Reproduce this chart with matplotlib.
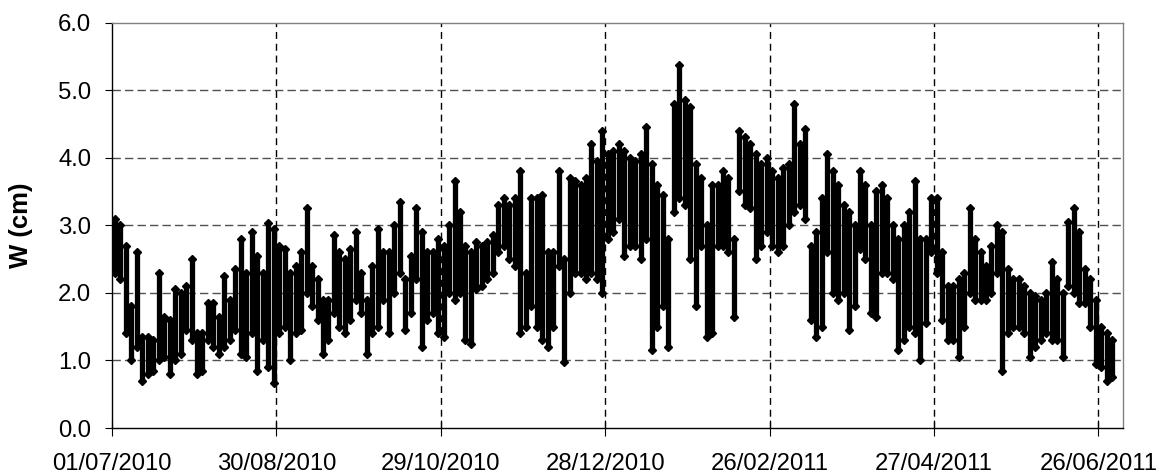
import numpy as np
import pandas as pd
import matplotlib
matplotlib.use('Agg')
import matplotlib.pyplot as plt
import matplotlib.dates as mdates

plt.rcParams['font.family'] = ['Liberation Sans', 'DejaVu Sans']
plt.rcParams['lines.scale_dashes'] = False

# two-day blocks starting 01/07/2010: lowest and highest W (cm)
start = '2010-07-01'
w_low = [2.3, 2.2, 1.4, 1.0, 1.2, 0.7, 0.8, 0.85, 1.0, 1.05,
         0.8, 1.0, 1.1, 1.45, 1.3, 0.8, 0.85, 1.3, 1.2, 1.1,
         1.2, 1.3, 1.45, 1.1, 1.05, 1.4, 0.85, 1.3, 0.9, 0.66,
         1.4, 1.5, 1.0, 1.4, 1.45, 2.0, 1.8, 1.6, 1.1, 1.3,
         1.7, 1.5, 1.4, 1.6, 1.9, 1.7, 1.1, 1.4, 1.5, 1.9,
         1.4, 2.0, 2.3, 1.45, 1.7, 2.2, 1.2, 1.6, 1.7, 1.4,
         1.35, 2.0, 1.9, 2.0, 1.3, 1.25, 2.05, 2.1, 2.2, 2.3,
         2.6, 2.7, 2.5, 2.4, 1.4, 1.5, 1.8, 1.5, 1.3, 1.2,
         1.5, 2.4, 0.98, 2.0, 2.3, 2.3, 2.2, 2.3, 2.2, 2.0,
         2.8, 2.9, 3.1, 2.55, 2.7, 2.7, 2.5, 2.8, 1.15, 1.5,
         1.8, 1.2, 3.2, 3.4, 3.3, 2.5, 1.8, 2.7, 1.35, 1.4,
         2.7, 2.7, 2.6, 1.65, 3.5, 3.3, 3.25, 2.5, 2.7, 2.9,
         2.7, 2.6, 2.7, 3.0, 3.2, 3.3, 3.1, 1.6, 1.35, 1.5,
         2.6, 2.0, 1.9, 2.0, 1.45, 1.8, 2.65, 2.5, 1.7, 1.65,
         2.3, 2.3, 2.2, 1.15, 1.3, 1.5, 1.4, 1.0, 1.55, 2.6,
         2.3, 1.6, 1.3, 1.3, 1.05, 1.5, 2.0, 1.9, 1.9, 1.9,
         2.0, 2.3, 0.85, 1.4, 1.5, 1.5, 1.4, 1.05, 1.2, 1.3,
         1.4, 1.3, 1.3, 1.05, 2.1, 2.0, 1.85, 1.85, 1.5, 0.95,
         0.9, 0.7, 0.75]
w_high = [3.1, 3.0, 2.7, 1.8, 2.6, 1.35, 1.35, 1.3, 2.3, 1.65,
          1.6, 2.05, 2.0, 2.1, 2.5, 1.4, 1.4, 1.85, 1.85, 1.65,
          2.25, 1.9, 2.35, 2.8, 2.3, 2.9, 2.55, 2.3, 3.03, 2.95,
          2.7, 2.65, 2.3, 2.4, 2.6, 3.25, 2.4, 2.2, 1.9, 1.9,
          2.85, 2.6, 2.5, 2.65, 2.9, 2.3, 1.9, 2.4, 2.95, 2.6,
          2.6, 3.0, 3.35, 2.2, 2.55, 3.25, 2.9, 2.6, 2.6, 2.8,
          2.7, 3.0, 3.65, 3.2, 2.7, 2.6, 2.75, 2.7, 2.75, 2.85,
          3.3, 3.4, 3.3, 3.4, 3.8, 2.3, 3.4, 3.4, 3.45, 2.6,
          2.6, 3.8, 2.5, 3.7, 3.65, 3.6, 3.7, 4.2, 3.95, 4.4,
          4.05, 4.1, 4.2, 4.1, 4.0, 3.95, 4.05, 4.45, 3.9, 3.6,
          3.45, 2.8, 4.8, 5.37, 4.85, 4.75, 3.9, 3.7, 3.0, 3.6,
          3.6, 3.8, 3.7, 2.8, 4.4, 4.3, 4.2, 4.05, 3.9, 4.0,
          3.8, 3.7, 3.85, 3.9, 4.8, 4.2, 4.43, 2.7, 2.9, 3.4,
          4.05, 3.8, 3.6, 3.3, 3.2, 3.0, 3.8, 3.6, 3.0, 3.5,
          3.6, 3.4, 3.0, 2.8, 3.0, 3.2, 3.65, 2.8, 2.8, 3.4,
          3.4, 2.6, 2.1, 2.1, 2.2, 2.3, 3.25, 2.8, 2.6, 2.4,
          2.7, 3.0, 2.9, 2.35, 2.2, 2.2, 2.1, 2.0, 1.95, 1.9,
          2.0, 2.45, 2.2, 2.0, 3.05, 3.25, 2.9, 2.35, 2.2, 1.9,
          1.5, 1.4, 1.3]
tick_dates = pd.date_range(start, periods=7, freq='60D')
y_ticks = [0, 1, 2, 3, 4, 5, 6]

dates = pd.date_range('2010-07-02', periods=len(w_low), freq='2D')

fig = plt.figure(figsize=(11.6, 4.75), dpi=100)
ax = fig.add_axes([0.0966, 0.0989, 0.8715, 0.8537])

ax.vlines(dates, w_low, w_high, color='black', linewidth=3.8, zorder=3)
ax.plot(dates, w_low, 'D', color='black', ms=4.5, zorder=3)
ax.plot(dates, w_high, 'D', color='black', ms=4.5, zorder=3)

ax.set_xlim(pd.Timestamp(start), pd.Timestamp('2011-07-05'))
ax.set_ylim(0, 6)
ax.set_xticks(tick_dates)
ax.xaxis.set_major_formatter(mdates.DateFormatter('%d/%m/%Y'))
ax.set_yticks(y_ticks)
ax.set_yticklabels(['%.1f' % v for v in y_ticks])

for v in y_ticks[1:-1]:
    ax.axhline(v, color='#505050', linewidth=1.0, dashes=(6, 3), zorder=1)
for d in tick_dates[1:]:
    ax.axvline(d, color='black', linewidth=1.0, dashes=(5, 3.5), zorder=1)

ax.spines['left'].set_color('black')
ax.spines['bottom'].set_color('black')
ax.spines['top'].set_color('#808080')
ax.spines['right'].set_color('#808080')
for s in ax.spines.values():
    s.set_linewidth(1.0)

ax.tick_params(axis='x', direction='inout', length=11.5, width=0.8, pad=12, labelsize=17.2)
ax.tick_params(axis='y', direction='out', length=5, width=0.8, pad=10, labelsize=17.2)

ax.set_ylabel('W (cm)', fontsize=18.5, fontweight='bold')
ax.yaxis.set_label_coords(-0.078, 0.5)

fig.savefig('out.png', dpi=100)
